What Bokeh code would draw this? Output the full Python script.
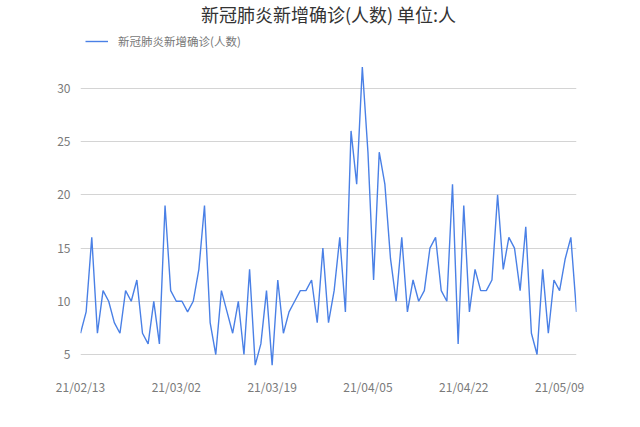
from datetime import date, timedelta
import numpy as np
from bokeh.plotting import figure
from bokeh.models import (ColumnDataSource, Range1d, FixedTicker, DatetimeTickFormatter,
                          Legend, LegendItem)
from bokeh.embed import file_html
from bokeh.resources import INLINE

title_text = "新冠肺炎新增确诊(人数) 单位:人"
series_name = "新冠肺炎新增确诊(人数)"
start_date = date(2021, 2, 13)
values = [7, 9, 16, 7, 11, 10, 8, 7, 11, 10, 12, 7, 6, 10, 6, 19, 11, 10, 10, 9,
          10, 13, 19, 8, 5, 11, 9, 7, 10, 5, 13, 4, 6, 11, 4, 12, 7, 9, 10, 11,
          11, 12, 8, 15, 8, 11, 16, 9, 26, 21, 32, 24, 12, 24, 21, 14, 10, 16, 9, 12,
          10, 11, 15, 16, 11, 10, 21, 6, 19, 9, 13, 11, 11, 12, 20, 13, 16, 15, 11, 17,
          7, 5, 13, 7, 12, 11, 14, 16, 9]
dates = [start_date + timedelta(days=i) for i in range(len(values))]
x_tick_dates = [date(2021, 2, 13), date(2021, 3, 2), date(2021, 3, 19),
                date(2021, 4, 5), date(2021, 4, 22), date(2021, 5, 9)]
y_ticks = [5, 10, 15, 20, 25, 30]

FONT = "Noto Sans CJK SC"

def ms(d):
    return (np.datetime64(d) - np.datetime64("1970-01-01")) / np.timedelta64(1, "ms")

src = ColumnDataSource(dict(x=[ms(d) for d in dates], y=values))

p = figure(width=624, height=411, output_backend="svg", toolbar_location=None,
           x_axis_type="datetime",
           x_range=Range1d(ms(dates[0]), ms(dates[-1])),
           y_range=Range1d(3.5, 35.62),
           min_border_left=80, min_border_right=48, min_border_top=28, min_border_bottom=41)
p.outline_line_color = None
p.background_fill_color = "white"
p.border_fill_color = "white"

p.title.text = title_text
p.title.align = "center"
p.title.vertical_align = "top"
p.title.text_font = FONT
p.title.text_font_size = "18px"
p.title.text_font_style = "normal"
p.title.text_color = "#333333"
p.title.text_line_height = 1.0
p.title.standoff = 0
p.title.offset = 0

r = p.line("x", "y", source=src, line_color="#4a80e6", line_width=1.4)

# axes
p.xaxis.ticker = FixedTicker(ticks=[ms(d) for d in x_tick_dates])
p.xaxis.formatter = DatetimeTickFormatter(days="%y/%m/%d", months="%y/%m/%d")
p.yaxis.ticker = FixedTicker(ticks=y_ticks)
for ax in (p.xaxis[0], p.yaxis[0]):
    ax.axis_line_color = None
    ax.major_tick_line_color = None
    ax.minor_tick_line_color = None
    ax.major_label_text_font = FONT
    ax.major_label_text_font_size = "12px"
    ax.major_label_text_color = "#7a7a7a"
p.yaxis.major_label_standoff = 4
p.xaxis.major_label_standoff = 1

p.xgrid.grid_line_color = None
p.ygrid.grid_line_color = "#d4d4d4"
p.ygrid.grid_line_width = 1

legend = Legend(items=[LegendItem(label=series_name, renderers=[r])],
                location="top_left", margin=5, padding=2,
                glyph_width=23, glyph_height=14, label_height=14,
                label_standoff=10, border_line_color=None,
                background_fill_alpha=0,
                label_text_font=FONT, label_text_font_size="11.5px",
                label_text_color="#777777")
p.add_layout(legend)

open("out.html", "w").write(file_html(p, INLINE))
